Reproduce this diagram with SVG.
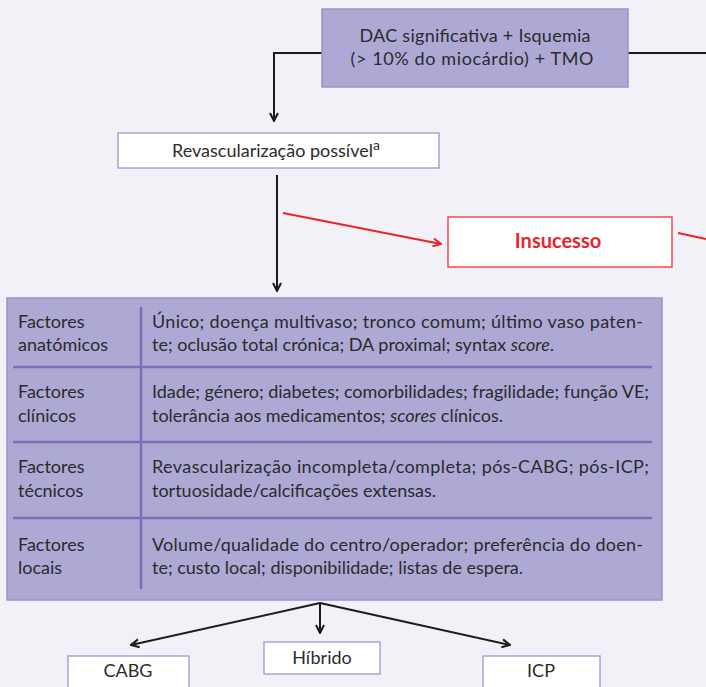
<svg xmlns="http://www.w3.org/2000/svg" width="706" height="687" viewBox="0 0 706 687">
<defs>
<style>
.t{font-family:Lato,"Liberation Sans",sans-serif;font-size:18px;fill:#2b2b2b}
.c{text-anchor:middle}
.box{fill:#ffffff;stroke:#aaa3d3;stroke-width:1.5}
.pbox{fill:#aea8d4;stroke:#9b94c9;stroke-width:1.5}
.div{stroke:#7a70b9;stroke-width:2.5;fill:none}
.ln{stroke:#1c1c1c;stroke-width:2;fill:none}
.rl{stroke:#e8242c;stroke-width:2;fill:none}
</style>
<marker id="ah" viewBox="0 0 10 10" refX="9" refY="5" markerWidth="10" markerHeight="10" markerUnits="userSpaceOnUse" orient="auto">
<path d="M1,1 L9,5 L1,9" fill="none" stroke="#1c1c1c" stroke-width="2"/>
</marker>
<marker id="ahr" viewBox="0 0 10 10" refX="9" refY="5" markerWidth="10" markerHeight="10" markerUnits="userSpaceOnUse" orient="auto">
<path d="M1,1 L9,5 L1,9" fill="none" stroke="#e8242c" stroke-width="2"/>
</marker>
</defs>
<rect width="706" height="687" fill="#f2f1f7"/>
<g id="connectors">
<path class="ln" d="M322,53 H274 V121" marker-end="url(#ah)"/>
<path class="ln" d="M628,53 H706"/>
<path class="ln" d="M277,175 V291" marker-end="url(#ah)"/>
<path class="rl" d="M283,213 L441,244" marker-end="url(#ahr)"/>
<path class="rl" d="M678,233 L706,239"/>
<path class="ln" d="M320,603 L131,645" marker-end="url(#ah)"/>
<path class="ln" d="M320,603 V633" marker-end="url(#ah)"/>
<path class="ln" d="M320,603 L510,645" marker-end="url(#ah)"/>
</g>
<g id="dac">
<rect class="pbox" x="322" y="9" width="306" height="78"/>
<text class="t c" x="475" y="42" textLength="231">DAC significativa + Isquemia</text>
<text class="t c" x="472" y="65" textLength="243">(&gt; 10% do miocárdio) + TMO</text>
</g>
<g id="revasc">
<rect class="box" x="118" y="133" width="321" height="35"/>
<text class="t" x="172" y="157">Revascularização possível<tspan font-size="14" dy="-7">a</tspan></text>
</g>
<g id="insucesso">
<rect x="448" y="217" width="224" height="50" fill="#ffffff" stroke="#ef4a50" stroke-width="1.5"/>
<text class="t c" x="558" y="248" style="fill:#e8242c;font-weight:bold;font-size:20px">Insucesso</text>
</g>
<g id="factores">
<rect class="pbox" x="7" y="298" width="655" height="302"/>
<path class="div" d="M141,307 V589 M13,367 H652 M13,442 H652 M13,518 H652"/>
<text class="t" x="18" y="328">Factores</text>
<text class="t" x="18" y="351">anatómicos</text>
<text class="t" x="152" y="328" textLength="491" lengthAdjust="spacing">Único; doença multivaso; tronco comum; último vaso paten-</text>
<text class="t" x="152" y="351">te; oclusão total crónica; DA proximal; syntax <tspan font-style="italic">score</tspan>.</text>
<text class="t" x="18" y="398">Factores</text>
<text class="t" x="18" y="422">clínicos</text>
<text class="t" x="152" y="398" textLength="497" lengthAdjust="spacing">Idade; género; diabetes; comorbilidades; fragilidade; função VE;</text>
<text class="t" x="152" y="422">tolerância aos medicamentos; <tspan font-style="italic">scores</tspan> clínicos.</text>
<text class="t" x="18" y="473">Factores</text>
<text class="t" x="18" y="497">técnicos</text>
<text class="t" x="152" y="473" textLength="497" lengthAdjust="spacing">Revascularização incompleta/completa; pós-CABG; pós-ICP;</text>
<text class="t" x="152" y="497">tortuosidade/calcificações extensas.</text>
<text class="t" x="18" y="551">Factores</text>
<text class="t" x="18" y="574">locais</text>
<text class="t" x="152" y="551" textLength="491" lengthAdjust="spacing">Volume/qualidade do centro/operador; preferência do doen-</text>
<text class="t" x="152" y="574">te; custo local; disponibilidade; listas de espera.</text>
</g>
<g id="cabg">
<rect class="box" x="68" y="656" width="121" height="40"/>
<text class="t c" x="128" y="677">CABG</text>
</g>
<g id="hibrido">
<rect class="box" x="264" y="642" width="116" height="32"/>
<text class="t c" x="322" y="664">Híbrido</text>
</g>
<g id="icp">
<rect class="box" x="483" y="656" width="117" height="40"/>
<text class="t c" x="541" y="677">ICP</text>
</g>
</svg>
